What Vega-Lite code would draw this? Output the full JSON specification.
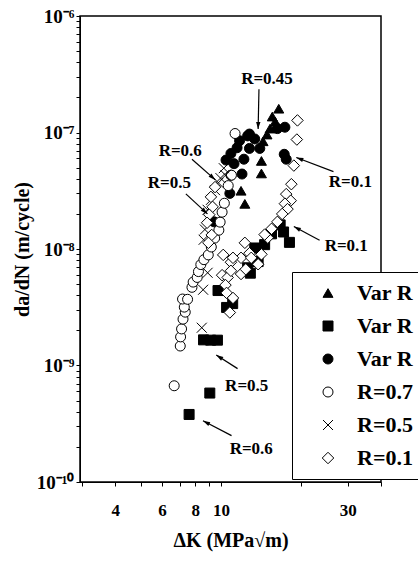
{
  "$schema": "https://vega.github.io/schema/vega-lite/v6.json",
  "width": 301,
  "height": 466,
  "autosize": {"type": "none"},
  "padding": {"left": 80, "top": 16, "right": 37, "bottom": 82},
  "background": "white",
  "config": {
    "view": {"stroke": "black", "strokeWidth": 1.5},
    "font": "Liberation Serif",
    "legend": {
      "title": null, "orient": "none", "legendX": 212, "legendY": 256,
      "strokeColor": "black", "fillColor": "white", "padding": 10,
      "rowPadding": 11, "symbolOffset": 15, "labelOffset": 18,
      "labelFont": "Liberation Serif", "labelFontSize": 22, "labelFontWeight": "bold", "labelColor": "black",
      "symbolSize": 100, "symbolStrokeWidth": 1
    }
  },
  "datasets": {
    "pts": [
      {"s": "Var R tri", "k": 16.5, "r": 1.6e-7},
      {"s": "Var R tri", "k": 15.6, "r": 1.37e-7},
      {"s": "Var R tri", "k": 16.0, "r": 1.24e-7},
      {"s": "Var R tri", "k": 15.3, "r": 1.08e-7},
      {"s": "Var R tri", "k": 14.9, "r": 9.6e-8},
      {"s": "Var R tri", "k": 14.4, "r": 8.4e-8},
      {"s": "Var R tri", "k": 14.2, "r": 5.7e-8},
      {"s": "Var R tri", "k": 14.2, "r": 4.45e-8},
      {"s": "Var R tri", "k": 11.9, "r": 3.16e-8},
      {"s": "Var R tri", "k": 12.3, "r": 2.44e-8},
      {"s": "Var R sq", "k": 9.08, "r": 5.8e-10},
      {"s": "Var R sq", "k": 7.59, "r": 3.8e-10},
      {"s": "Var R sq", "k": 8.6, "r": 1.66e-9},
      {"s": "Var R sq", "k": 9.15, "r": 1.65e-9},
      {"s": "Var R sq", "k": 9.7, "r": 1.65e-9},
      {"s": "Var R sq", "k": 9.75, "r": 4.4e-9},
      {"s": "Var R sq", "k": 11.07, "r": 3.4e-9},
      {"s": "Var R sq", "k": 10.5, "r": 3.15e-9},
      {"s": "Var R sq", "k": 12.9, "r": 6.2e-9},
      {"s": "Var R sq", "k": 13.4, "r": 1.02e-8},
      {"s": "Var R sq", "k": 12.6, "r": 6.9e-9},
      {"s": "Var R sq", "k": 15.5, "r": 1.35e-8},
      {"s": "Var R sq", "k": 16.7, "r": 1.61e-8},
      {"s": "Var R sq", "k": 17.2, "r": 1.4e-8},
      {"s": "Var R sq", "k": 18.1, "r": 1.14e-8},
      {"s": "Var R sq", "k": 13.8, "r": 7.8e-9},
      {"s": "Var R sq", "k": 14.6, "r": 1.09e-8},
      {"s": "Var R dot", "k": 12.6, "r": 9.35e-8},
      {"s": "Var R dot", "k": 12.8, "r": 9.7e-8},
      {"s": "Var R dot", "k": 11.5, "r": 7.4e-8},
      {"s": "Var R dot", "k": 12.8, "r": 7.3e-8},
      {"s": "Var R dot", "k": 10.9, "r": 6.6e-8},
      {"s": "Var R dot", "k": 12.2, "r": 5.9e-8},
      {"s": "Var R dot", "k": 11.2, "r": 5.4e-8},
      {"s": "Var R dot", "k": 12.0, "r": 4.4e-8},
      {"s": "Var R dot", "k": 10.9, "r": 4.3e-8},
      {"s": "Var R dot", "k": 10.8, "r": 3.0e-8},
      {"s": "Var R dot", "k": 14.0, "r": 7.3e-8},
      {"s": "Var R dot", "k": 17.4, "r": 1.11e-7},
      {"s": "Var R dot", "k": 16.3, "r": 1.08e-7},
      {"s": "Var R dot", "k": 17.3, "r": 6.5e-8},
      {"s": "Var R dot", "k": 17.6, "r": 5.9e-8},
      {"s": "Var R dot", "k": 9.43, "r": 1.71e-8},
      {"s": "Var R dot", "k": 11.75, "r": 8.5e-8},
      {"s": "Var R dot", "k": 13.4, "r": 8.8e-8},
      {"s": "Var R dot", "k": 10.45, "r": 5.8e-8},
      {"s": "R=0.7", "k": 6.67, "r": 6.7e-10},
      {"s": "R=0.7", "k": 7.03, "r": 1.47e-9},
      {"s": "R=0.7", "k": 7.05, "r": 1.76e-9},
      {"s": "R=0.7", "k": 7.11, "r": 2.06e-9},
      {"s": "R=0.7", "k": 7.2, "r": 2.5e-9},
      {"s": "R=0.7", "k": 7.34, "r": 2.87e-9},
      {"s": "R=0.7", "k": 7.28, "r": 3.17e-9},
      {"s": "R=0.7", "k": 7.17, "r": 3.72e-9},
      {"s": "R=0.7", "k": 7.49, "r": 3.7e-9},
      {"s": "R=0.7", "k": 7.78, "r": 4.69e-9},
      {"s": "R=0.7", "k": 7.86, "r": 5.2e-9},
      {"s": "R=0.7", "k": 8.14, "r": 5.7e-9},
      {"s": "R=0.7", "k": 8.23, "r": 6.4e-9},
      {"s": "R=0.7", "k": 8.4, "r": 7.35e-9},
      {"s": "R=0.7", "k": 8.63, "r": 8.1e-9},
      {"s": "R=0.7", "k": 8.96, "r": 8.9e-9},
      {"s": "R=0.7", "k": 9.2, "r": 1.04e-8},
      {"s": "R=0.7", "k": 9.47, "r": 1.24e-8},
      {"s": "R=0.7", "k": 9.82, "r": 1.45e-8},
      {"s": "R=0.7", "k": 9.93, "r": 1.7e-8},
      {"s": "R=0.7", "k": 10.1, "r": 2.07e-8},
      {"s": "R=0.7", "k": 10.3, "r": 2.47e-8},
      {"s": "R=0.7", "k": 10.65, "r": 3.5e-8},
      {"s": "R=0.7", "k": 10.95, "r": 4.3e-8},
      {"s": "R=0.7", "k": 11.3, "r": 9.8e-8},
      {"s": "R=0.5", "k": 8.47, "r": 2.11e-9},
      {"s": "R=0.5", "k": 8.57, "r": 4.47e-9},
      {"s": "R=0.5", "k": 8.91, "r": 6.25e-9},
      {"s": "R=0.5", "k": 8.61, "r": 1.2e-8},
      {"s": "R=0.5", "k": 8.7, "r": 1.47e-8},
      {"s": "R=0.5", "k": 8.91, "r": 2.17e-8},
      {"s": "R=0.5", "k": 9.17, "r": 2.64e-8},
      {"s": "R=0.5", "k": 9.5, "r": 3.2e-8},
      {"s": "R=0.5", "k": 9.78, "r": 3.7e-8},
      {"s": "R=0.5", "k": 9.96, "r": 4.06e-8},
      {"s": "R=0.5", "k": 10.25, "r": 4.94e-8},
      {"s": "R=0.5", "k": 10.4, "r": 4.3e-8},
      {"s": "R=0.1", "k": 19.4, "r": 1.27e-7},
      {"s": "R=0.1", "k": 19.3, "r": 8.7e-8},
      {"s": "R=0.1", "k": 18.8, "r": 5.2e-8},
      {"s": "R=0.1", "k": 18.4, "r": 3.6e-8},
      {"s": "R=0.1", "k": 17.6, "r": 2.96e-8},
      {"s": "R=0.1", "k": 18.3, "r": 2.6e-8},
      {"s": "R=0.1", "k": 17.4, "r": 2.45e-8},
      {"s": "R=0.1", "k": 17.8, "r": 2.2e-8},
      {"s": "R=0.1", "k": 17.0, "r": 2.0e-8},
      {"s": "R=0.1", "k": 16.3, "r": 1.71e-8},
      {"s": "R=0.1", "k": 15.5, "r": 1.49e-8},
      {"s": "R=0.1", "k": 15.0, "r": 1.25e-8},
      {"s": "R=0.1", "k": 14.6, "r": 1.33e-8},
      {"s": "R=0.1", "k": 14.2, "r": 9.0e-9},
      {"s": "R=0.1", "k": 12.8, "r": 9.2e-9},
      {"s": "R=0.1", "k": 12.3, "r": 1.13e-8},
      {"s": "R=0.1", "k": 11.9, "r": 8.4e-9},
      {"s": "R=0.1", "k": 10.9, "r": 7.7e-9},
      {"s": "R=0.1", "k": 10.2, "r": 8.9e-9},
      {"s": "R=0.1", "k": 11.1, "r": 8.4e-9},
      {"s": "R=0.1", "k": 10.1, "r": 5.96e-9},
      {"s": "R=0.1", "k": 10.6, "r": 5.7e-9},
      {"s": "R=0.1", "k": 10.9, "r": 6.5e-9},
      {"s": "R=0.1", "k": 11.9, "r": 6.1e-9},
      {"s": "R=0.1", "k": 10.4, "r": 4.9e-9},
      {"s": "R=0.1", "k": 10.5, "r": 4.2e-9},
      {"s": "R=0.1", "k": 11.1, "r": 3.8e-9},
      {"s": "R=0.1", "k": 10.8, "r": 2.85e-9},
      {"s": "R=0.1", "k": 13.0, "r": 8.4e-9},
      {"s": "R=0.1", "k": 13.8, "r": 7.4e-9},
      {"s": "R=0.1", "k": 12.4, "r": 6.7e-9},
      {"s": "R=0.1", "k": 9.5, "r": 3.4e-8},
      {"s": "R=0.1", "k": 9.17, "r": 2.8e-8},
      {"s": "R=0.1", "k": 9.3, "r": 2.3e-8},
      {"s": "R=0.1", "k": 9.04, "r": 1.97e-8},
      {"s": "R=0.1", "k": 8.87, "r": 1.68e-8},
      {"s": "R=0.1", "k": 9.23, "r": 1.32e-8},
      {"s": "R=0.1", "k": 8.97, "r": 1.13e-8}
    ],
    "arrows": [
      {"k": 13.9, "r": 2.35e-7, "k2": 13.8, "r2": 1.07e-7},
      {"k": 7.78, "r": 5.9e-8, "k2": 9.53, "r2": 3.92e-8},
      {"k": 7.38, "r": 2.97e-8, "k2": 8.9, "r2": 2.0e-8},
      {"k": 26.5, "r": 4.62e-8, "k2": 19.2, "r2": 6.1e-8},
      {"k": 23.5, "r": 1.19e-8, "k2": 18.8, "r2": 1.56e-8},
      {"k": 11.55, "r": 9.4e-10, "k2": 9.6, "r2": 1.23e-9},
      {"k": 10.96, "r": 2.5e-10, "k2": 8.56, "r2": 3.35e-10}
    ],
    "notes": [
      {"k": 14.9, "r": 2.9e-7, "t": "R=0.45"},
      {"k": 7.03, "r": 6.97e-8, "t": "R=0.6"},
      {"k": 6.4, "r": 3.72e-8, "t": "R=0.5"},
      {"k": 30.7, "r": 3.75e-8, "t": "R=0.1"},
      {"k": 29.6, "r": 1.06e-8, "t": "R=0.1"},
      {"k": 12.5, "r": 6.65e-10, "t": "R=0.5"},
      {"k": 13.0, "r": 1.91e-10, "t": "R=0.6"}
    ]
  },
  "layer": [
    {
      "data": {"name": "pts"},
      "mark": {"type": "point", "filled": true, "strokeWidth": 1, "size": 100, "opacity": 1},
      "encoding": {
        "x": {
          "field": "k", "type": "quantitative", "title": "ΔK (MPa√m)",
          "scale": {"type": "log", "domain": [2.95, 40], "nice": false},
          "axis": {
            "title": "ΔK (MPa√m)",
            "titleFont": "Liberation Serif", "titleFontSize": 20, "titleFontWeight": "bold", "titleColor": "black", "titlePadding": 12,
            "values": [3, 4, 5, 6, 7, 8, 9, 10, 20, 30, 40],
            "labelExpr": "(datum.value==4||datum.value==6||datum.value==8||datum.value==10||datum.value==30) ? format(datum.value,'d') : ''",
            "labelFont": "Liberation Serif", "labelFontSize": 17, "labelFontWeight": "bold", "labelColor": "black",
            "labelPadding": 16, "tickSize": 4, "tickColor": "black", "domainColor": "black", "grid": false, "labelOverlap": false
          }
        },
        "y": {
          "field": "r", "type": "quantitative", "title": "da/dN (m/cycle)",
          "scale": {"type": "log", "domain": [1e-10, 1e-6], "nice": false},
          "axis": {
            "title": "da/dN (m/cycle)",
            "titleFont": "Liberation Serif", "titleFontSize": 20, "titleFontWeight": "bold", "titleColor": "black", "titlePadding": 4,
            "values": [1e-10, 2e-10, 3e-10, 4e-10, 5e-10, 6e-10, 7e-10, 8e-10, 9e-10, 1e-9, 2e-9, 3e-9, 4e-9, 5e-9, 6e-9, 7e-9, 8e-9, 9e-9, 1e-8, 2e-8, 3e-8, 4e-8, 5e-8, 6e-8, 7e-8, 8e-8, 9e-8, 1e-7, 2e-7, 3e-7, 4e-7, 5e-7, 6e-7, 7e-7, 8e-7, 9e-7, 1e-6],
            "labelExpr": "abs(log(datum.value)/LN10 - round(log(datum.value)/LN10)) > 0.01 ? '' : round(log(datum.value)/LN10) == -6 ? '10⁻⁶' : round(log(datum.value)/LN10) == -7 ? '10⁻⁷' : round(log(datum.value)/LN10) == -8 ? '10⁻⁸' : round(log(datum.value)/LN10) == -9 ? '10⁻⁹' : '10⁻¹⁰'",
            "labelFont": "Liberation Serif", "labelFontSize": 19, "labelFontWeight": "bold", "labelColor": "black",
            "labelPadding": 2, "tickSize": 4, "tickColor": "black", "domainColor": "black", "grid": false, "labelOverlap": false
          }
        },
        "shape": {
          "field": "s", "type": "nominal",
          "scale": {
            "domain": ["Var R tri", "Var R sq", "Var R dot", "R=0.7", "R=0.5", "R=0.1"],
            "range": ["triangle-up", "square", "circle", "circle", "M-1,-1L1,1M-1,1L1,-1", "M0,-1.15L1.15,0L0,1.15L-1.15,0Z"]
          },
          "legend": {"labelExpr": "indexof(datum.label, 'Var R') == 0 ? 'Var R' : datum.label"}
        },
        "fill": {
          "field": "s", "type": "nominal",
          "scale": {
            "domain": ["Var R tri", "Var R sq", "Var R dot", "R=0.7", "R=0.5", "R=0.1"],
            "range": ["black", "black", "black", "white", "white", "white"]
          },
          "legend": {"labelExpr": "indexof(datum.label, 'Var R') == 0 ? 'Var R' : datum.label"}
        },
        "stroke": {
          "field": "s", "type": "nominal",
          "scale": {
            "domain": ["Var R tri", "Var R sq", "Var R dot", "R=0.7", "R=0.5", "R=0.1"],
            "range": ["black", "black", "black", "black", "black", "black"]
          },
          "legend": {"labelExpr": "indexof(datum.label, 'Var R') == 0 ? 'Var R' : datum.label"}
        }
      }
    },
    {
      "data": {"name": "arrows"},
      "mark": {"type": "rule", "color": "black", "strokeWidth": 1.2},
      "encoding": {
        "x": {"field": "k", "type": "quantitative", "title": "ΔK (MPa√m)"},
        "y": {"field": "r", "type": "quantitative", "title": "da/dN (m/cycle)"},
        "x2": {"field": "k2"},
        "y2": {"field": "r2"}
      }
    },
    {
      "data": {"name": "arrows"},
      "transform": [
        {"calculate": "atan2(266 * log(datum.k2 / datum.k) / LN10, 116.5 * log(datum.r2 / datum.r) / LN10) * 180 / PI", "as": "ang"}
      ],
      "mark": {"type": "point", "filled": true, "color": "black", "size": 30, "opacity": 1, "shape": "M0,0L0.8,2.6L-0.8,2.6Z"},
      "encoding": {
        "x": {"field": "k2", "type": "quantitative", "title": "ΔK (MPa√m)"},
        "y": {"field": "r2", "type": "quantitative", "title": "da/dN (m/cycle)"},
        "angle": {"field": "ang", "type": "quantitative", "scale": null}
      }
    },
    {
      "data": {"name": "notes"},
      "mark": {"type": "text", "font": "Liberation Serif", "fontSize": 17, "fontWeight": "bold", "color": "black"},
      "encoding": {
        "x": {"field": "k", "type": "quantitative", "title": "ΔK (MPa√m)"},
        "y": {"field": "r", "type": "quantitative", "title": "da/dN (m/cycle)"},
        "text": {"field": "t"}
      }
    }
  ]
}
